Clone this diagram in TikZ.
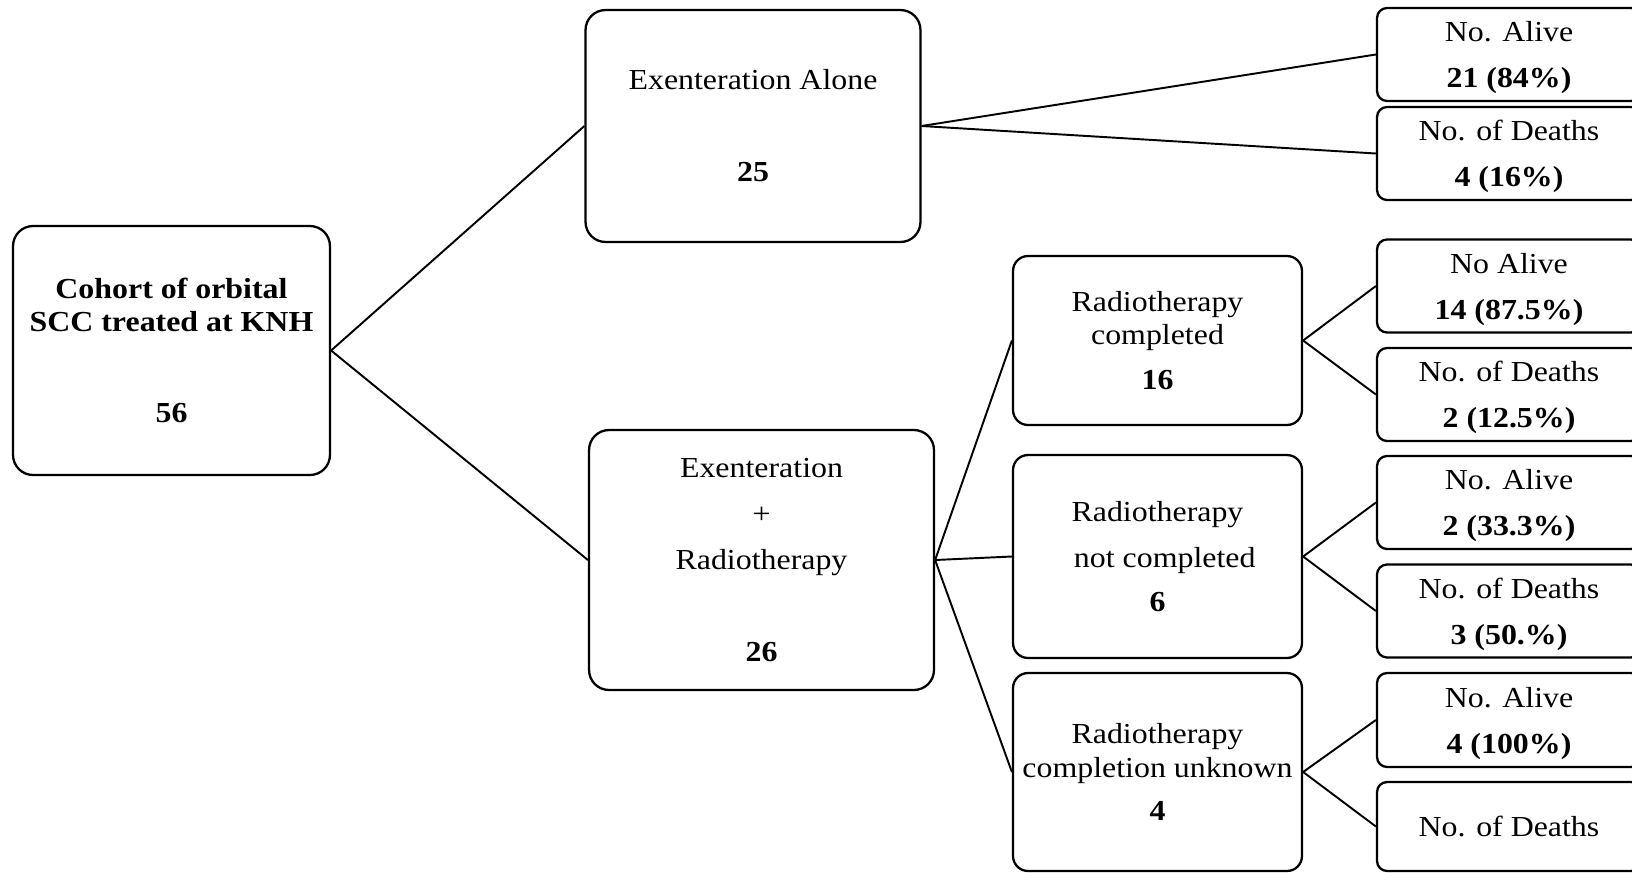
\documentclass[tikz,border=0pt]{standalone}
\usepackage{fontspec}
\setmainfont{Liberation Serif}[FakeStretch=1.1]
\usetikzlibrary{positioning}

\begin{document}
\begin{tikzpicture}[x=0.02cm, y=-0.02cm,
    every node/.style={font=\fontsize{16.5}{19}\selectfont},
    stagebox/.style={draw, line width=1.3pt, rounded corners=0.4cm, align=center, inner sep=0pt},
    armbox/.style={stagebox, rounded corners=0.3cm, minimum width=5.78cm},
    outcomebox/.style={draw, line width=1.3pt, rounded corners=0.2cm, align=center, inner sep=0pt,
        text depth=0pt, minimum width=5.28cm, minimum height=1.86cm},
    link/.style={line width=1.1pt}]

    % --- frame of the page (right column is cut at the edge) ---
    \clip (0,0) rectangle (1632,873);

    % --- LEFT: whole cohort ---
    \node[stagebox, minimum width=6.34cm, minimum height=4.98cm,
        font=\fontsize{16.5}{19}\selectfont\bfseries] (cohort) at (171.5,350.5)
        {Cohort of orbital\\SCC treated at KNH\\[33pt]56};

    % --- MIDDLE: treatment groups ---
    \node[stagebox, minimum width=6.7cm, minimum height=4.64cm] (exalone) at (753,126)
        {Exenteration Alone\\[33.4pt]\textbf{25}};
    \node[stagebox, minimum width=6.9cm, minimum height=5.2cm] (exradio) at (761.5,560)
        {Exenteration\\[7.2pt]+\\[7.2pt]Radiotherapy\\[33.4pt]\textbf{26}};

    % --- radiotherapy sub-groups ---
    \node[armbox, minimum height=3.38cm] (rtdone) at (1157.5,340.5)
        {Radiotherapy\\completed\\[6.6pt]\textbf{16}};
    \node[armbox, minimum height=4.06cm] (rtpart) at (1157.5,556.5)
        {Radiotherapy\\[7.2pt]\hspace*{0.5em}not completed\\[6pt]\textbf{6}};
    \node[armbox, minimum height=3.96cm] (rtunk) at (1157.5,772)
        {Radiotherapy\\completion unknown\\[5.5pt]\textbf{4}};

    % --- RIGHT: outcomes ---
    \node[outcomebox] (alive1) at (1509,54.5) {No. Alive\\[7.2pt]\textbf{21 (84\%)}};
    \node[outcomebox] (dead1) at (1509,153.5) {No. of Deaths\\[7.2pt]\textbf{4 (16\%)}};
    \node[outcomebox] (alive2) at (1509,286) {No Alive\\[7.2pt]\textbf{14 (87.5\%)}};
    \node[outcomebox] (dead2) at (1509,394.5) {No. of Deaths\\[7.2pt]\textbf{2 (12.5\%)}};
    \node[outcomebox] (alive3) at (1509,502.5) {No. Alive\\[7.2pt]\textbf{2 (33.3\%)}};
    \node[outcomebox] (dead3) at (1509,611) {No. of Deaths\\[7.2pt]\textbf{3 (50.\%)}};
    \node[outcomebox, minimum height=1.88cm] (alive4) at (1509,720) {No. Alive\\[7.2pt]\textbf{4 (100\%)}};
    \node[outcomebox, minimum height=1.78cm] (dead4) at (1509,826.5) {No. of Deaths};

    % --- connectors ---
    \foreach \from/\to in {cohort/exalone, cohort/exradio,
            exalone/alive1, exalone/dead1,
            exradio/rtdone, exradio/rtpart, exradio/rtunk,
            rtdone/alive2, rtdone/dead2,
            rtpart/alive3, rtpart/dead3,
            rtunk/alive4, rtunk/dead4}
        \draw[link] (\from.east) -- (\to.west);

\end{tikzpicture}
\end{document}
